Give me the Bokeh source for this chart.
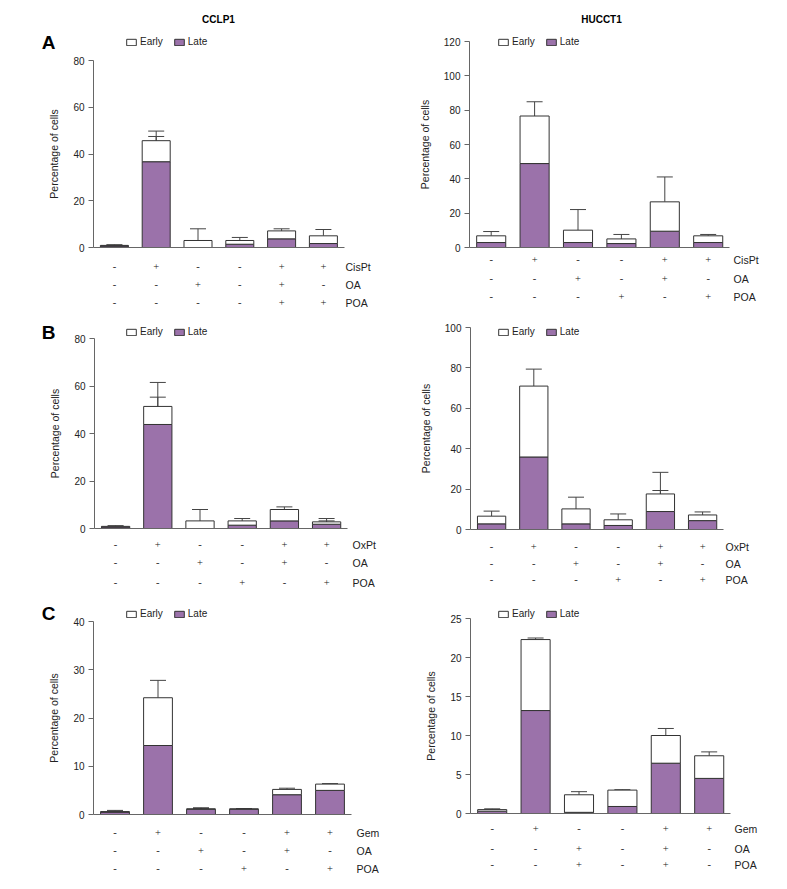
import numpy as np
from bokeh.plotting import figure
from bokeh.models import (ColumnDataSource, Range1d, FixedTicker, Legend, LegendItem,
                          Label, LabelSet, Whisker, TeeHead)
from bokeh.layouts import column, row
from bokeh.embed import file_html
from bokeh.resources import INLINE

conditions = [1, 2, 3, 4, 5, 6]

# ---- A: CisPt ----
a_cclp1_late = [0.6, 36.7, 0.0, 1.4, 3.7, 1.7]
a_cclp1_early = [0.3, 9.0, 3.0, 1.6, 3.4, 3.3]
a_cclp1_late_err = [0.3, 10.8, 0.0, 1.6, 1.9, 1.6]
a_cclp1_early_err = [0.3, 4.1, 5.0, 1.3, 0.9, 2.7]
a_cclp1_ticks = [0, 20, 40, 60, 80]
a_cclp1_drug = ["-", "+", "-", "-", "+", "+"]
a_cclp1_oa = ["-", "-", "+", "-", "+", "-"]
a_cclp1_poa = ["-", "-", "-", "-", "+", "+"]

a_hucct1_late = [2.9, 48.9, 2.9, 2.3, 9.5, 2.9]
a_hucct1_early = [3.9, 27.7, 7.2, 2.7, 17.1, 3.9]
a_hucct1_late_err = [2.7, 15.7, 5.2, 2.0, 10.1, 1.0]
a_hucct1_early_err = [2.5, 8.3, 12.0, 2.6, 14.5, 0.8]
a_hucct1_ticks = [0, 20, 40, 60, 80, 100, 120]
a_hucct1_drug = ["-", "+", "-", "-", "+", "+"]
a_hucct1_oa = ["-", "-", "+", "-", "+", "-"]
a_hucct1_poa = ["-", "-", "-", "+", "-", "+"]

# ---- B: OxPt ----
b_cclp1_late = [0.6, 43.8, 0.0, 1.4, 3.2, 1.8]
b_cclp1_early = [0.3, 7.6, 3.2, 1.8, 4.8, 1.0]
b_cclp1_late_err = [0.3, 11.5, 0.0, 1.4, 1.0, 1.4]
b_cclp1_early_err = [0.3, 10.1, 4.8, 1.0, 1.1, 1.4]
b_cclp1_ticks = [0, 20, 40, 60, 80]
b_cclp1_drug = ["-", "+", "-", "-", "+", "+"]
b_cclp1_oa = ["-", "-", "+", "-", "+", "-"]
b_cclp1_poa = ["-", "-", "-", "+", "-", "+"]

b_hucct1_late = [2.8, 35.9, 2.8, 2.0, 8.9, 4.4]
b_hucct1_early = [3.8, 35.1, 7.4, 2.8, 8.7, 2.8]
b_hucct1_late_err = [2.6, 12.9, 5.4, 2.0, 10.4, 2.6]
b_hucct1_early_err = [2.5, 8.4, 5.8, 2.9, 10.7, 1.5]
b_hucct1_ticks = [0, 20, 40, 60, 80, 100]
b_hucct1_drug = ["-", "+", "-", "-", "+", "+"]
b_hucct1_oa = ["-", "-", "+", "-", "+", "-"]
b_hucct1_poa = ["-", "-", "-", "+", "-", "+"]

# ---- C: Gem ----
c_cclp1_late = [0.5, 14.3, 1.1, 1.1, 4.1, 5.0]
c_cclp1_early = [0.1, 9.9, 0.05, 0.05, 1.1, 1.3]
c_cclp1_late_err = [0.2, 5.3, 0.1, 0.05, 0.8, 0.5]
c_cclp1_early_err = [0.25, 3.6, 0.25, 0.05, 0.25, 0.1]
c_cclp1_ticks = [0, 10, 20, 30, 40]
c_cclp1_drug = ["-", "+", "-", "-", "+", "+"]
c_cclp1_oa = ["-", "-", "+", "-", "+", "-"]
c_cclp1_poa = ["-", "-", "-", "+", "-", "+"]

c_hucct1_late = [0.3, 13.2, 0.15, 0.9, 6.45, 4.5]
c_hucct1_early = [0.2, 9.1, 2.25, 2.1, 3.55, 2.9]
c_hucct1_late_err = [0.15, 1.1, 0.1, 0.6, 0.65, 0.7]
c_hucct1_early_err = [0.1, 0.2, 0.4, 0.05, 0.9, 0.5]
c_hucct1_ticks = [0, 5, 10, 15, 20, 25]
c_hucct1_drug = ["-", "+", "-", "-", "+", "+"]
c_hucct1_oa = ["-", "-", "+", "-", "+", "-"]
c_hucct1_poa = ["-", "-", "+", "-", "+", "-"]

PURPLE = "#9b72aa"
FONT = "Liberation Sans"
TXT = "#222222"
AX = "#666666"


def make_panel(late, early, late_err, early_err, ticks, table, g, letter=None, title=None):
    fx, fy, W, H = g["fig"]
    sp = g["sp"]
    base = g["base"]
    ppu = (base - g["top_px"]) / ticks[-1]

    def X(px):
        return 0.5 + (px - g["axis"]) / sp

    def Y(py):
        return (base - py) / ppu

    p = figure(width=W, height=H, x_range=Range1d(X(fx), X(fx + W)),
               y_range=Range1d(Y(fy + H), Y(fy)), output_backend="svg",
               toolbar_location=None, min_border=0, outline_line_color=None)
    p.xgrid.visible = False
    p.ygrid.visible = False

    late_a = np.array(late, dtype=float)
    early_a = np.array(early, dtype=float)
    total_a = late_a + early_a
    src = ColumnDataSource(dict(
        x=conditions, late=late, early=early,
        late_lo=late_a, late_hi=late_a + np.array(late_err),
        tot_lo=total_a, tot_hi=total_a + np.array(early_err)))
    rs = p.vbar_stack(["late", "early"], x="x", width=0.67, source=src,
                      fill_color=[PURPLE, "white"], line_color="#333333", line_width=1)

    for lo, hi in (("late_lo", "late_hi"), ("tot_lo", "tot_hi")):
        p.add_layout(Whisker(base="x", lower=lo, upper=hi, source=src,
                             line_color="#444444", line_width=1,
                             upper_head=TeeHead(size=16, line_color="#444444", line_width=1),
                             lower_head=None))

    # axes drawn at fixed data locations
    p.yaxis.fixed_location = 0.5
    p.yaxis.ticker = FixedTicker(ticks=ticks)
    p.yaxis.bounds = (0, ticks[-1])
    p.yaxis.axis_line_color = AX
    p.yaxis.major_tick_line_color = AX
    p.yaxis.major_tick_out = 5
    p.yaxis.major_tick_in = 0
    p.yaxis.minor_tick_line_color = None
    p.yaxis.major_label_text_font = FONT
    p.yaxis.major_label_text_font_size = "10px"
    p.yaxis.major_label_text_color = TXT
    p.yaxis.major_label_standoff = 4
    p.yaxis.axis_label = "Percentage of cells"
    p.yaxis.axis_label_text_font = FONT
    p.yaxis.axis_label_text_font_size = "10.5px"
    p.yaxis.axis_label_text_font_style = "normal"
    p.yaxis.axis_label_text_color = TXT
    p.yaxis.axis_label_standoff = 10

    p.xaxis.fixed_location = 0
    p.xaxis.ticker = FixedTicker(ticks=[])
    p.xaxis.bounds = (0.5, 6.5)
    p.xaxis.axis_line_color = AX
    p.xaxis.major_tick_line_color = None
    p.xaxis.minor_tick_line_color = None
    p.xaxis.major_label_text_font_size = "0px"

    lx, ly = g["leg"]
    legend = Legend(items=[LegendItem(label="Early", renderers=[rs[1]]),
                           LegendItem(label="Late", renderers=[rs[0]])],
                    location=(lx - fx, fy + H - ly - 6), orientation="horizontal",
                    glyph_width=12, glyph_height=8, label_height=10, label_width=10,
                    label_standoff=3, spacing=10, padding=0, margin=0,
                    label_text_font=FONT, label_text_font_size="10px",
                    label_text_color=TXT, border_line_color=None,
                    background_fill_alpha=0)
    p.add_layout(legend)

    # treatment table under the x axis
    for (name, signs), ry in zip(table, g["rows"]):
        tsrc = ColumnDataSource(dict(x=conditions, y=[Y(ry)] * len(conditions), t=signs))
        p.add_layout(LabelSet(x="x", y="y", text="t", source=tsrc,
                              text_align="center", text_baseline="middle",
                              text_font=FONT, text_font_size="10.5px", text_color=TXT))
        p.add_layout(Label(x=X(g["lab"]), y=Y(ry), text=name, text_align="left",
                           text_baseline="middle", text_font=FONT,
                           text_font_size="10.5px", text_color=TXT))

    if letter:
        lpx, lpy = g["letter"]
        p.add_layout(Label(x=X(lpx), y=Y(lpy), text=letter, text_align="center",
                           text_baseline="middle", text_font=FONT,
                           text_font_size="19px", text_font_style="bold",
                           text_color="black"))
    if title:
        tpx, tpy = g["title"]
        p.add_layout(Label(x=X(tpx), y=Y(tpy), text=title, text_align="center",
                           text_baseline="middle", text_font=FONT, text_font_size="10px",
                           text_font_style="bold", text_color="black"))
    return p


LW, RW = 384, 396
HA, HB, HC = 310, 284, 291

gAL = dict(fig=(0, 0, LW, HA), axis=93, sp=41.8, base=247, top_px=60, leg=(125, 41),
           rows=[266, 284, 302], lab=345, letter=(48, 42), title=(218, 19))
gAR = dict(fig=(LW, 0, RW, HA), axis=469, sp=43.4, base=247, top_px=41, leg=(497, 41),
           rows=[259, 278, 296], lab=733, title=(601, 19))
gBL = dict(fig=(0, HA, LW, HB), axis=94, sp=42.2, base=528, top_px=338, leg=(125, 331),
           rows=[544, 562, 582], lab=352, letter=(48, 332))
gBR = dict(fig=(LW, HA, RW, HB), axis=470, sp=42.2, base=529, top_px=327, leg=(497, 331),
           rows=[546, 563, 579], lab=725)
gCL = dict(fig=(0, HA + HB, LW, HC), axis=93, sp=43.0, base=814, top_px=621, leg=(125, 613),
           rows=[832, 850, 868], lab=356, letter=(48, 613))
gCR = dict(fig=(LW, HA + HB, RW, HC), axis=470, sp=43.4, base=813, top_px=618, leg=(497, 613),
           rows=[828, 848, 864], lab=734)

pAL = make_panel(a_cclp1_late, a_cclp1_early, a_cclp1_late_err, a_cclp1_early_err,
                 a_cclp1_ticks,
                 [("CisPt", a_cclp1_drug), ("OA", a_cclp1_oa), ("POA", a_cclp1_poa)],
                 gAL, letter="A", title="CCLP1")
pAR = make_panel(a_hucct1_late, a_hucct1_early, a_hucct1_late_err, a_hucct1_early_err,
                 a_hucct1_ticks,
                 [("CisPt", a_hucct1_drug), ("OA", a_hucct1_oa), ("POA", a_hucct1_poa)],
                 gAR, title="HUCCT1")
pBL = make_panel(b_cclp1_late, b_cclp1_early, b_cclp1_late_err, b_cclp1_early_err,
                 b_cclp1_ticks,
                 [("OxPt", b_cclp1_drug), ("OA", b_cclp1_oa), ("POA", b_cclp1_poa)],
                 gBL, letter="B")
pBR = make_panel(b_hucct1_late, b_hucct1_early, b_hucct1_late_err, b_hucct1_early_err,
                 b_hucct1_ticks,
                 [("OxPt", b_hucct1_drug), ("OA", b_hucct1_oa), ("POA", b_hucct1_poa)],
                 gBR)
pCL = make_panel(c_cclp1_late, c_cclp1_early, c_cclp1_late_err, c_cclp1_early_err,
                 c_cclp1_ticks,
                 [("Gem", c_cclp1_drug), ("OA", c_cclp1_oa), ("POA", c_cclp1_poa)],
                 gCL, letter="C")
pCR = make_panel(c_hucct1_late, c_hucct1_early, c_hucct1_late_err, c_hucct1_early_err,
                 c_hucct1_ticks,
                 [("Gem", c_hucct1_drug), ("OA", c_hucct1_oa), ("POA", c_hucct1_poa)],
                 gCR)

layout = column(row(pAL, pAR), row(pBL, pBR), row(pCL, pCR))
open("out.html", "w").write(file_html(layout, INLINE))
